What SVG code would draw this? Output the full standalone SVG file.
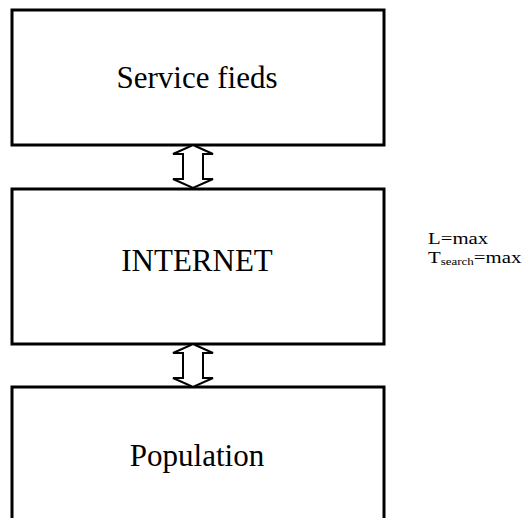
<svg xmlns="http://www.w3.org/2000/svg" width="523" height="518" viewBox="0 0 523 518">
<style>
.box{fill:#fff;stroke:#000;stroke-width:3}
.lbl{font-family:"Liberation Serif","Times New Roman",serif;font-size:31px;text-anchor:middle;fill:#000}
.note{font-family:"Liberation Serif","Times New Roman",serif;font-size:16px;fill:#000}
.arr{fill:#fff;stroke:#000;stroke-width:2;stroke-linejoin:miter}
</style>
<g id="service">
<rect class="box" x="12" y="10" width="372" height="135"/>
<text class="lbl" x="197" y="88">Service fieds</text>
</g>
<g id="internet">
<rect class="box" x="12" y="189" width="372" height="155"/>
<text class="lbl" x="197" y="271">INTERNET</text>
</g>
<g id="population">
<rect class="box" x="12" y="387" width="372" height="140"/>
<text class="lbl" x="197" y="466">Population</text>
</g>
<g id="connectors">
<path class="arr" d="M193,145 L213,154 L203,154 L203,179 L213,179 L193,188 L173,179 L183,179 L183,154 L173,154 Z"/>
<path class="arr" d="M193,344 L213,353 L203,353 L203,378 L213,378 L193,387 L173,378 L183,378 L183,353 L173,353 Z"/>
</g>
<g id="note" transform="translate(428,0) scale(1.3,1)">
<text class="note" x="0" y="244.5">L=max</text>
<text class="note" x="0" y="263.5">T<tspan font-size="10" dy="1.5">search</tspan><tspan dy="-1.5">=max</tspan></text>
</g>
</svg>
